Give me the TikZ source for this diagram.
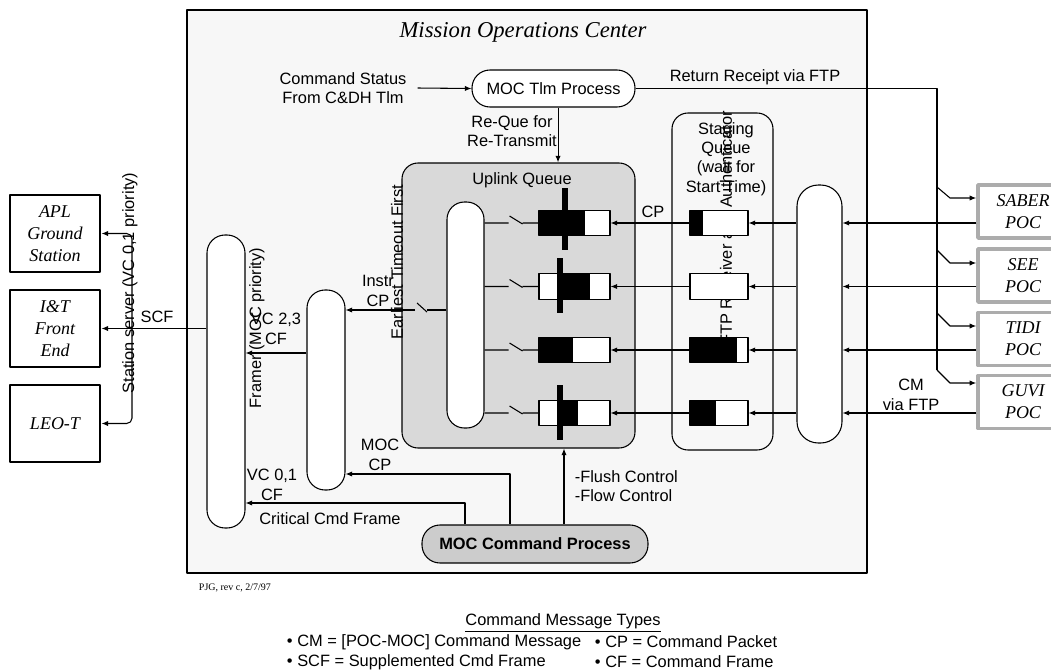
\documentclass[tikz,border=0pt]{standalone}
\usepackage{fontspec}
\setmainfont{Liberation Sans}
\newfontfamily\romit{Liberation Serif}
\usetikzlibrary{arrows.meta}

\begin{document}
\begin{tikzpicture}[x=0.75pt,y=-0.75pt,>={Latex[length=5pt,width=4pt]},line join=round,line width=0.8pt,
  every node/.style={font=\fontsize{12.3}{14.6}\selectfont},
  site/.style={draw,line width=2.2pt,fill=white,minimum width=67.5pt,minimum height=57.75pt,align=center,
    font=\romit\itshape\fontsize{13.5}{16.5}\selectfont},
  poc/.style={site,draw=gray!65,line width=2.6pt,minimum height=39.75pt},
  oval/.style={draw,fill=white,inner sep=0pt,rounded corners=13.5pt,minimum width=28.5pt},
  qbox/.style={draw,fill=white,inner sep=0pt,minimum height=19pt},
  proc/.style={draw,inner sep=0pt,rounded corners=13.5pt},
  lbl/.style={align=center,inner sep=1pt}]
  \useasboundingbox (0,0) rectangle (1051,672);

  \node[draw,line width=2.2pt,fill=gray!6,inner sep=0pt,minimum width=510pt,minimum height=422.25pt] (moc) at (527,291.5) {};
  \node[font=\romit\itshape\fontsize{17}{20}\selectfont] (moctitle) at (523,32) {Mission Operations Center};

  \node[draw,rounded corners=12pt,inner sep=0pt,minimum width=75.75pt,minimum height=252.75pt] (staging) at (722.5,281.5) {};
  \node[draw,fill=gray!30,rounded corners=12pt,inner sep=0pt,minimum width=174.75pt,minimum height=213.75pt] (uplink) at (518.5,305.5) {};
  \node[lbl] (uplinktitle) at (522,180) {Uplink Queue};
  \node[lbl] (stagingtitle) at (726,159) {Staging\\Queue\\(wait for\\Start Time)};
  \node[lbl,rotate=90] (ftprx) at (726,228) {FTP Receiver and Authenticator};

  \node[oval,rounded corners=13pt,minimum width=27.75pt,minimum height=169.5pt] (eto) at (465.5,315) {};
  \node[oval,rounded corners=16pt,minimum width=33.75pt,minimum height=193.5pt] (recv) at (819.5,314) {};
  \node[oval,minimum height=150pt] (vcq) at (326,390) {};
  \node[oval,minimum height=219.75pt] (framer) at (226,381.5) {};

  \node[qbox,minimum width=53.25pt] (up1) at (574.5,223) {};
  \node[qbox,minimum width=53.25pt] (up2) at (574.5,286.5) {};
  \node[qbox,minimum width=53.25pt] (up3) at (574.5,350) {};
  \node[qbox,minimum width=53.25pt] (up4) at (574.5,413) {};
  \node[qbox,minimum width=43.5pt] (st1) at (719,223) {};
  \node[qbox,minimum width=43.5pt] (st2) at (719,286.5) {};
  \node[qbox,minimum width=43.5pt] (st3) at (719,350) {};
  \node[qbox,minimum width=43.5pt] (st4) at (719,413) {};

  \fill (539,210.5) rectangle (585,235.5);
  \fill (557,274) rectangle (590,299);
  \fill (539,337.5) rectangle (573,362.5);
  \fill (563,400.5) rectangle (578,425.5);
  \fill (690,210.5) rectangle (703,235.5);
  \fill (690,337.5) rectangle (737,362.5);
  \fill (690,400.5) rectangle (716,425.5);
  \draw[line width=4.5pt] (565,188) -- (565,250);
  \draw[line width=4.5pt] (560,258) -- (560,313);
  \draw[line width=4.5pt] (560,385) -- (560,440);

  \node[site] (apl) at (55,233.5) {APL\\Ground\\Station};
  \node[site] (itf) at (55,328.5) {I\&T\\Front\\End};
  \node[site] (leot) at (55,423.5) {LEO-T};
  \node[poc] (saber) at (1023,211.5) {SABER\\POC};
  \node[poc] (see) at (1023,275.5) {SEE\\POC};
  \node[poc] (tidi) at (1023,339) {TIDI\\POC};
  \node[poc] (guvi) at (1023,402) {GUVI\\POC};

  \node[proc,fill=white,minimum width=122.25pt,minimum height=27.75pt] (tlm) at (553.5,88.5) {MOC Tlm Process};
  \node[proc,fill=gray!40,minimum width=169.5pt,minimum height=28.5pt,
    font=\fontsize{12.3}{14.6}\selectfont\bfseries] (cmdproc) at (535,544) {MOC Command Process};

  \node[lbl] (cmdstat) at (343,88) {Command Status\\From C\&DH Tlm};
  \node[lbl] (rrftp) at (755,77) {Return Receipt via FTP};
  \node[lbl] (requeue) at (512,131) {Re-Que for\\Re-Transmit};
  \node[lbl] (cplbl) at (653,212) {CP};
  \node[lbl] (instr) at (378,291) {Instr\\CP};
  \node[lbl] (vc23) at (276,329) {VC 2,3\\CF};
  \node[lbl] (scf) at (157,317) {SCF};
  \node[lbl] (moccp) at (380,455) {MOC\\CP};
  \node[lbl] (vc01) at (272,485) {VC 0,1\\CF};
  \node[lbl] (crit) at (330,519) {Critical Cmd Frame};
  \node[lbl,align=left,anchor=west] (flush) at (573,486) {-Flush Control\\-Flow Control};
  \node[lbl] (cmftp) at (911,395) {CM\\via FTP};

  \draw[->] ([xshift=7pt]cmdstat.east) -- (tlm.west);
  \coordinate (rq) at ([xshift=3.4pt]tlm.south);
  \draw[->] (rq) -- (rq |- uplink.north);
  \draw (tlm.east) -| (937,370);
  \draw[->] (937,187) -- (950,198) -- (saber.west |- 0,198);
  \draw[->] (937,250) -- (950,263) -- (see.west |- 0,263);
  \draw[->] (937,313) -- (950,326) -- (tidi.west |- 0,326);
  \draw[->] (937,370) -- (950,383) -- (guvi.west |- 0,383);

  \draw[->] (saber.west |- st1) -- (recv.east |- st1);
  \draw[->] (see.west |- st2) -- (recv.east |- st2);
  \draw[->] (tidi.west |- st3) -- (recv.east |- st3);
  \draw[->] (guvi.west |- st4) -- (recv.east |- st4);
  \draw[->] (recv.west |- st1) -- (st1.east);
  \draw[->] (recv.west |- st2) -- (st2.east);
  \draw[->] (recv.west |- st3) -- (st3.east);
  \draw[->] (recv.west |- st4) -- (st4.east);
  \draw[->] (st1.west) -- (up1.east);
  \draw[->] (st2.west) -- (up2.east);
  \draw[->] (st3.west) -- (up3.east);
  \draw[->] (st4.west) -- (up4.east);

  \draw (eto.east |- up1) -- ++(24,0) ++(1,-7) -- ++(13,8) ++(0,-1) -- (up1.west);
  \draw (eto.east |- up2) -- ++(24,0) ++(1,-7) -- ++(13,8) ++(0,-1) -- (up2.west);
  \draw (eto.east |- up3) -- ++(24,0) ++(1,-7) -- ++(13,8) ++(0,-1) -- (up3.west);
  \draw (eto.east |- up4) -- ++(24,0) ++(1,-7) -- ++(13,8) ++(0,-1) -- (up4.west);

  \draw (eto.west |- 0,310) -- (427,310);
  \draw (427,312) -- (417,303);
  \draw[->] (415,310) -- (vcq.east |- 0,310);
  \draw[->] (vcq.west |- 0,353) -- (framer.east |- 0,353);
  \draw[->] (framer.west |- itf) -- (itf.east);
  \coordinate (ss) at (132,328.5);
  \draw[->,rounded corners=4pt] (ss) |- (apl.east);
  \draw[->,rounded corners=4pt] (ss) |- (leot.east);

  \coordinate (mcp) at ([xshift=-18.75pt]cmdproc.north);
  \coordinate (crf) at ([xshift=-52.5pt]cmdproc.north);
  \coordinate (flc) at ([xshift=21.75pt]cmdproc.north);
  \draw[->] (mcp) |- (vcq.east |- 0,474);
  \draw[->] (crf) |- (framer.east |- 0,503);
  \draw[->] (flc) -- (flc |- uplink.south);

  \node[lbl,rotate=90] (etolbl) at (397,262) {Earliest Timeout First};
  \node[lbl,rotate=90] (framerlbl) at (257,328) {Framer (MOC priority)};
  \node[lbl,rotate=90] (sslbl) at (130,283) {Station server (VC 0,1 priority)};

  \node[anchor=west,font=\romit\fontsize{7.5}{9}\selectfont] (pjg) at (194,588) {PJG, rev c, 2/7/97};
  \node (legtitle) at (563,623) {\underline{Command Message Types}};
  \node[anchor=west] (legcm) at (282,642) {• CM = [POC-MOC] Command Message};
  \node[anchor=west] (legscf) at (282,662) {• SCF = Supplemented Cmd Frame};
  \node[anchor=west] (legcp) at (590,642) {• CP = Command Packet};
  \node[anchor=west] (legcf) at (590,662) {• CF = Command Frame};
\end{tikzpicture}
\end{document}
